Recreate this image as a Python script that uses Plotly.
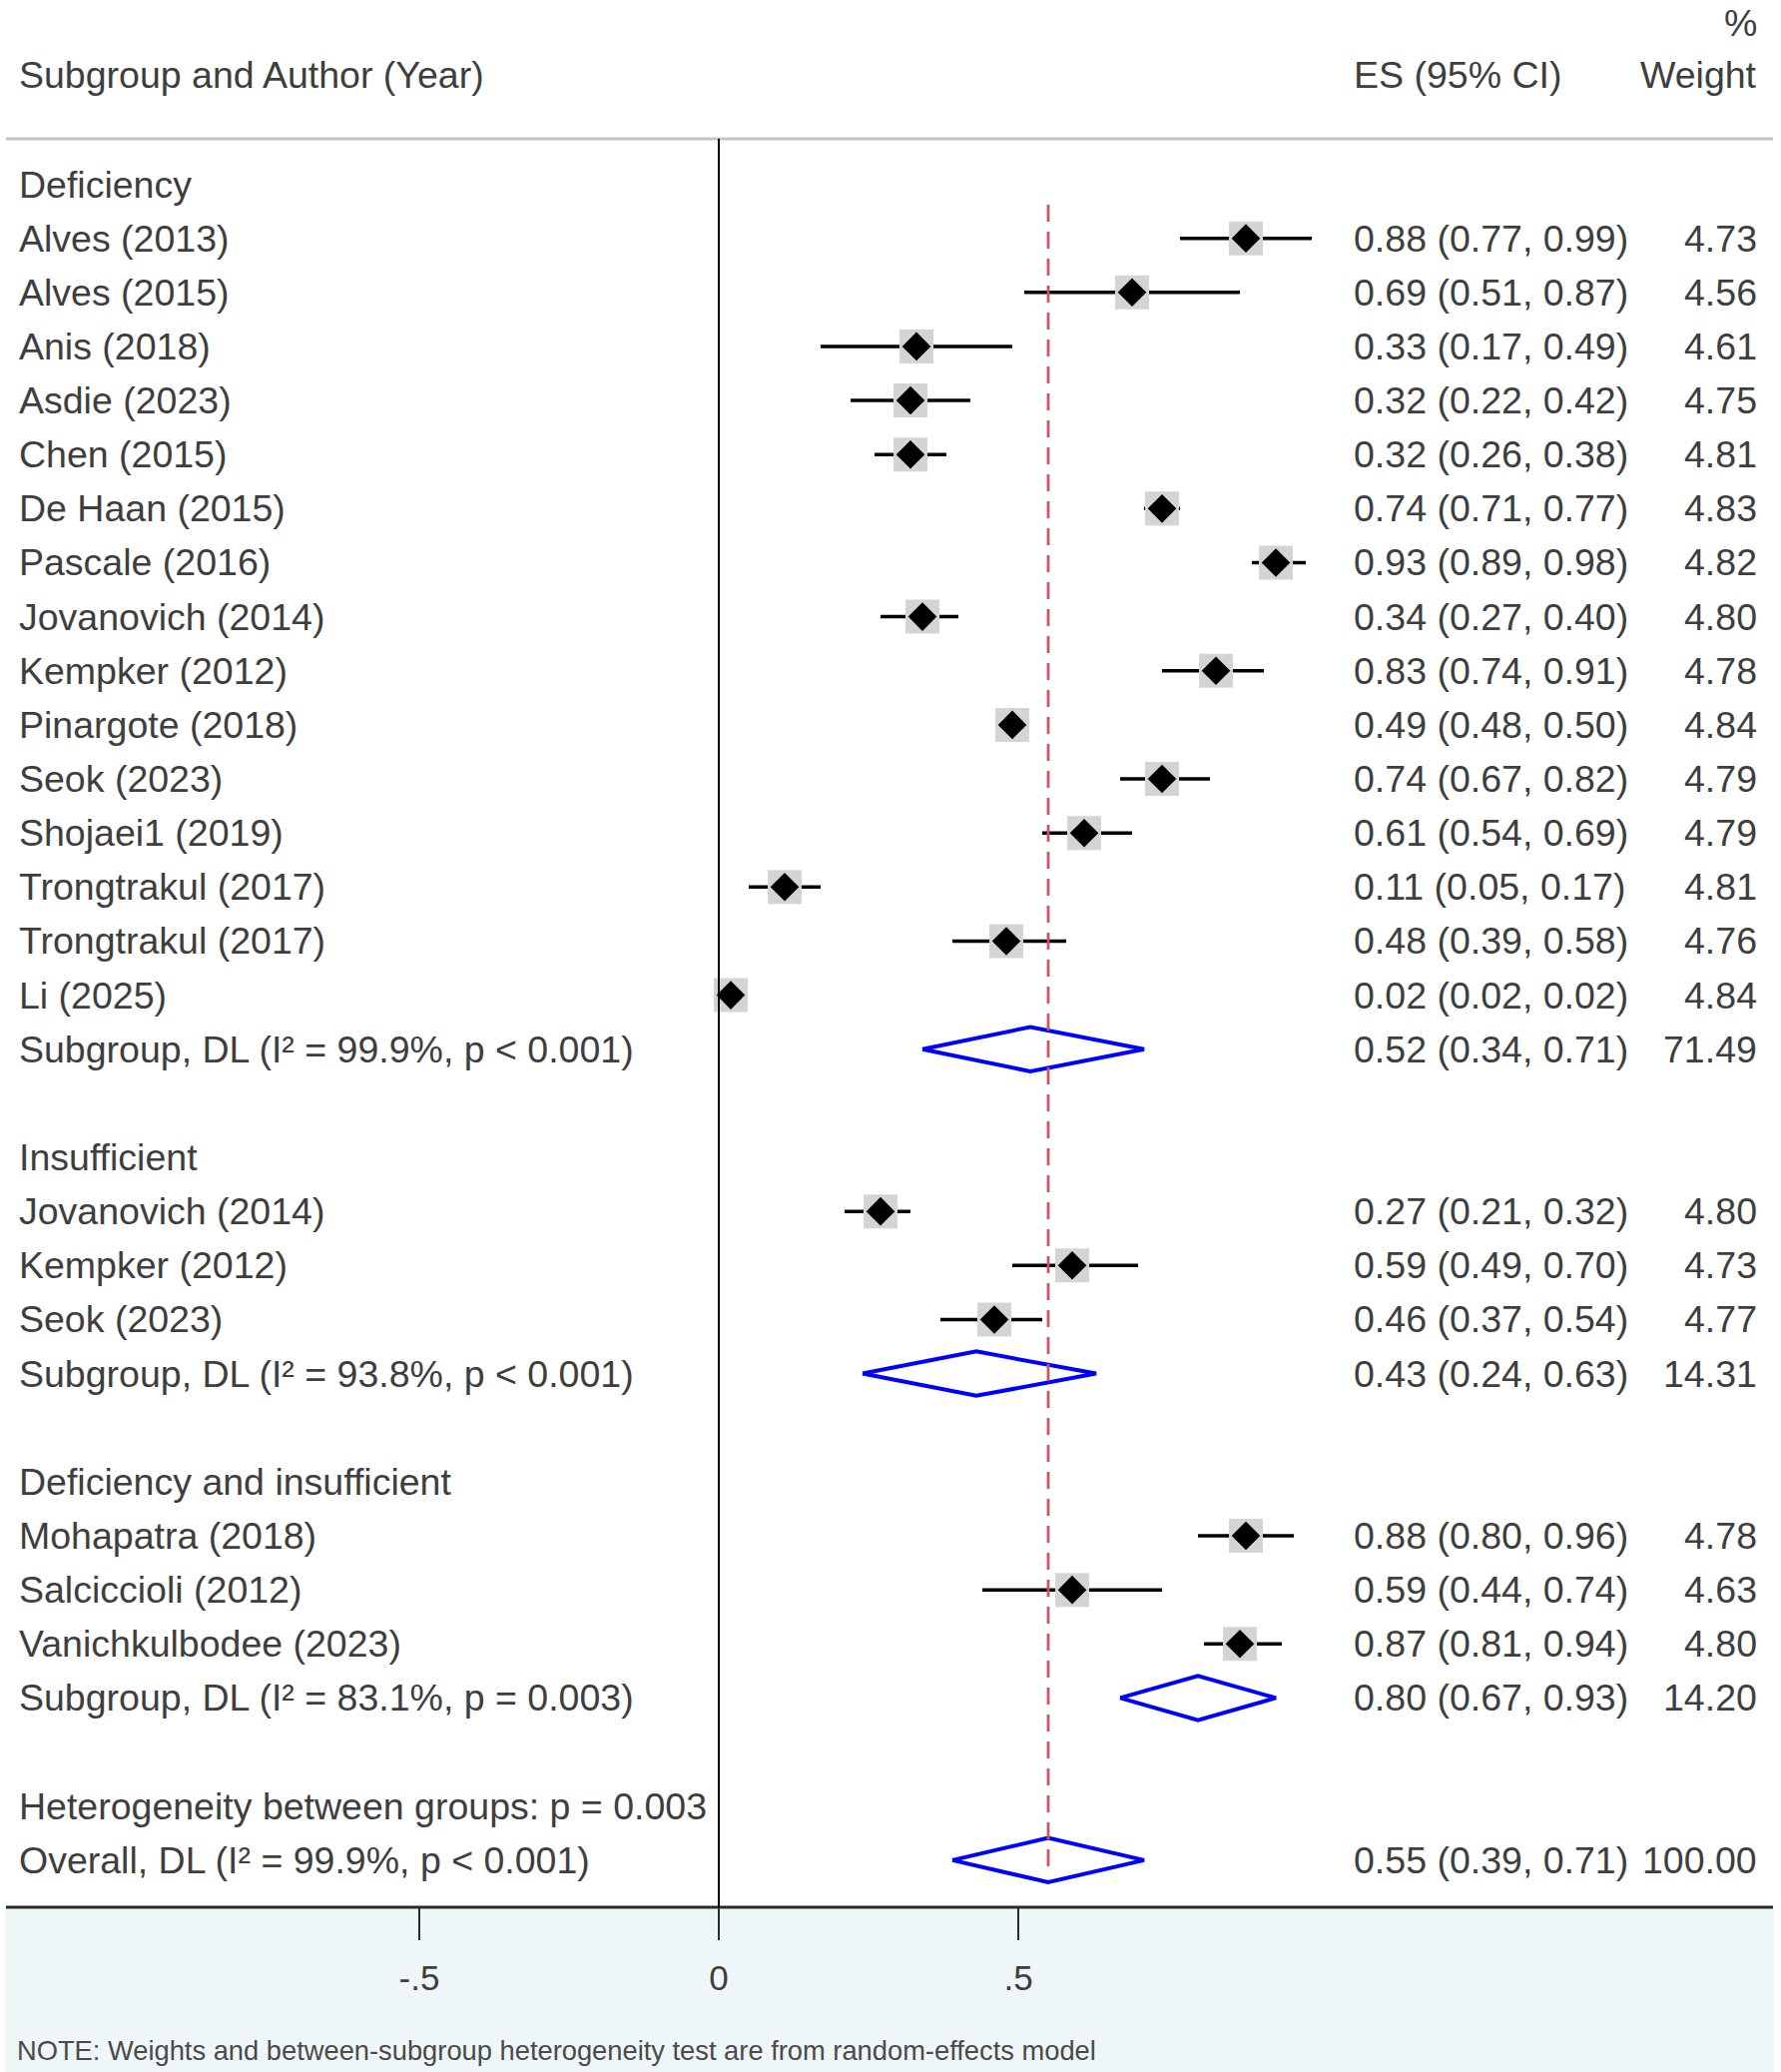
import plotly.graph_objects as go

# ---- data ----
group_names = ["Deficiency", "Insufficient", "Deficiency and insufficient"]

def_studies = ["Alves (2013)", "Alves (2015)", "Anis (2018)", "Asdie (2023)", "Chen (2015)",
               "De Haan (2015)", "Pascale (2016)", "Jovanovich (2014)", "Kempker (2012)",
               "Pinargote (2018)", "Seok (2023)", "Shojaei1 (2019)", "Trongtrakul (2017)",
               "Trongtrakul (2017)", "Li (2025)"]
def_es = [0.88, 0.69, 0.33, 0.32, 0.32, 0.74, 0.93, 0.34, 0.83, 0.49, 0.74, 0.61, 0.11, 0.48, 0.02]
def_lo = [0.77, 0.51, 0.17, 0.22, 0.26, 0.71, 0.89, 0.27, 0.74, 0.48, 0.67, 0.54, 0.05, 0.39, 0.02]
def_hi = [0.99, 0.87, 0.49, 0.42, 0.38, 0.77, 0.98, 0.40, 0.91, 0.50, 0.82, 0.69, 0.17, 0.58, 0.02]
def_w = [4.73, 4.56, 4.61, 4.75, 4.81, 4.83, 4.82, 4.80, 4.78, 4.84, 4.79, 4.79, 4.81, 4.76, 4.84]

ins_studies = ["Jovanovich (2014)", "Kempker (2012)", "Seok (2023)"]
ins_es = [0.27, 0.59, 0.46]
ins_lo = [0.21, 0.49, 0.37]
ins_hi = [0.32, 0.70, 0.54]
ins_w = [4.80, 4.73, 4.77]

di_studies = ["Mohapatra (2018)", "Salciccioli (2012)", "Vanichkulbodee (2023)"]
di_es = [0.88, 0.59, 0.87]
di_lo = [0.80, 0.44, 0.81]
di_hi = [0.96, 0.74, 0.94]
di_w = [4.78, 4.63, 4.80]

sub_labels = ["Subgroup, DL (I² = 99.9%, p < 0.001)",
              "Subgroup, DL (I² = 93.8%, p < 0.001)",
              "Subgroup, DL (I² = 83.1%, p = 0.003)"]
sub_es = [0.52, 0.43, 0.80]
sub_lo = [0.34, 0.24, 0.67]
sub_hi = [0.71, 0.63, 0.93]
sub_w = [71.49, 14.31, 14.20]

het_label = "Heterogeneity between groups: p = 0.003"
overall_label = "Overall, DL (I² = 99.9%, p < 0.001)"
overall_es, overall_lo, overall_hi, overall_w = 0.55, 0.39, 0.71, 100.00

tick_vals = [-0.5, 0, 0.5]
tick_text = ["-.5", "0", ".5"]
note = "NOTE: Weights and between-subgroup heterogeneity test are from random-effects model"

# ---- lay out rows ----
groups = [
    (def_studies, def_es, def_lo, def_hi, def_w),
    (ins_studies, ins_es, ins_lo, ins_hi, ins_w),
    (di_studies, di_es, di_lo, di_hi, di_w),
]

study_rows, pooled_rows, label_rows = [], [], []
r = 0
for g, (names, es, lo, hi, w) in enumerate(groups):
    label_rows.append((r, group_names[g]))
    r += 1
    for i in range(len(names)):
        study_rows.append((r, names[i], es[i], lo[i], hi[i], w[i]))
        r += 1
    pooled_rows.append((r, sub_labels[g], sub_es[g], sub_lo[g], sub_hi[g], sub_w[g]))
    r += 2
label_rows.append((r, het_label))
r += 1
pooled_rows.append((r, overall_label, overall_es, overall_lo, overall_hi, overall_w))
last_row = r

W, H = 1784, 2075
TXT = "#3e3e3e"
FONT = "Liberation Sans, Arial, Helvetica, sans-serif"
FS = 37.5

fig = go.Figure()

# confidence intervals
cx, cy = [], []
for row, name, e, lo, hi, w in study_rows:
    cx += [lo, hi, None]
    cy += [row, row, None]
fig.add_trace(go.Scatter(x=cx, y=cy, mode="lines", line=dict(color="black", width=3.5),
                         hoverinfo="skip"))

# weight boxes + point estimates
fig.add_trace(go.Scatter(
    x=[s[2] for s in study_rows], y=[s[0] for s in study_rows], mode="markers",
    marker=dict(symbol="square", size=34, color="#d4d4d4", line=dict(width=0))))
fig.add_trace(go.Scatter(
    x=[s[2] for s in study_rows], y=[s[0] for s in study_rows], mode="markers",
    marker=dict(symbol="diamond", size=22, color="black", line=dict(width=0))))

# pooled diamonds
dx, dy = [], []
for row, name, e, lo, hi, w in pooled_rows:
    dx += [lo, e, hi, e, lo, None]
    dy += [row, row - 0.41, row, row + 0.41, row, None]
fig.add_trace(go.Scatter(x=dx, y=dy, mode="lines", line=dict(color="#0000ff", width=4),
                         hoverinfo="skip"))

ann = []
def add_text(x, y, text, anchor="left", size=FS, color=TXT):
    ann.append(dict(x=x, y=y, xref="x", yref="y", text=text, showarrow=False,
                    xanchor=anchor, yanchor="middle", font=dict(size=size, color=color, family=FONT)))

X_LABEL, X_ES, X_W = -1.1715, 1.056, 1.737
for row, text in label_rows:
    add_text(X_LABEL, row, text)
for row, name, e, lo, hi, w in study_rows + pooled_rows:
    add_text(X_LABEL, row, name)
    add_text(X_ES, row, f"{e:.2f} ({lo:.2f}, {hi:.2f})")
    add_text(X_W, row, f"{w:.2f}", anchor="right")

# header
add_text(X_LABEL, -2.03, "Subgroup and Author (Year)")
add_text(X_ES, -2.03, "ES (95% CI)")
add_text(X_W, -2.03, "Weight", anchor="right")
add_text(X_W, -2.98, "%", anchor="right")
add_text(X_LABEL - 0.004, 34.52, note, size=27.3, color="#4a4a4a")

# row y (pixels) = 184.5 + 54.14 * row
ROW0, ROWH = 184.5, 54.14
y_top = -ROW0 / ROWH
y_bot = (H - ROW0) / ROWH
x_min = -720 / 600
x_max = (W - 720) / 600
axis_pos = 1 - 1910 / H

shapes = [
    # light panel below the axis
    dict(type="rect", xref="paper", yref="paper", x0=5 / W, x1=1777 / W, y0=0, y1=axis_pos,
         fillcolor="#eef6f8", line=dict(width=0), layer="below"),
    # header rule
    dict(type="line", xref="paper", yref="paper", x0=6 / W, x1=1776 / W,
         y0=1 - 139 / H, y1=1 - 139 / H, line=dict(color="#c4c4c4", width=3)),
    # axis rule
    dict(type="line", xref="paper", yref="paper", x0=6 / W, x1=1776 / W,
         y0=axis_pos, y1=axis_pos, line=dict(color="#2a2a2a", width=3)),
    # null line
    dict(type="line", xref="x", yref="paper", x0=0, x1=0, y0=axis_pos, y1=1 - 139 / H,
         line=dict(color="black", width=2)),
    # overall effect line
    dict(type="line", xref="x", yref="y", x0=overall_es, x1=overall_es, y0=0.38,
         y1=last_row + 0.3, line=dict(color="#cc5560", width=2.8, dash="17px,10px")),
]

fig.update_layout(
    width=W, height=H, margin=dict(l=0, r=0, t=0, b=0),
    paper_bgcolor="white", plot_bgcolor="rgba(0,0,0,0)", showlegend=False,
    annotations=ann, shapes=shapes,
    xaxis=dict(range=[x_min, x_max], domain=[0, 1], anchor="free", position=axis_pos,
               showgrid=False, zeroline=False, showline=False,
               tickvals=tick_vals, ticktext=tick_text, ticks="outside", ticklen=32,
               tickwidth=2, tickcolor="#2a2a2a", ticklabelstandoff=8,
               tickfont=dict(size=35, color=TXT, family=FONT)),
    yaxis=dict(range=[y_bot, y_top], domain=[0, 1], showgrid=False, zeroline=False,
               showticklabels=False, showline=False),
)

fig.write_html("out.html", config={"displayModeBar": False},
               post_script="document.body.style.margin='0';")
